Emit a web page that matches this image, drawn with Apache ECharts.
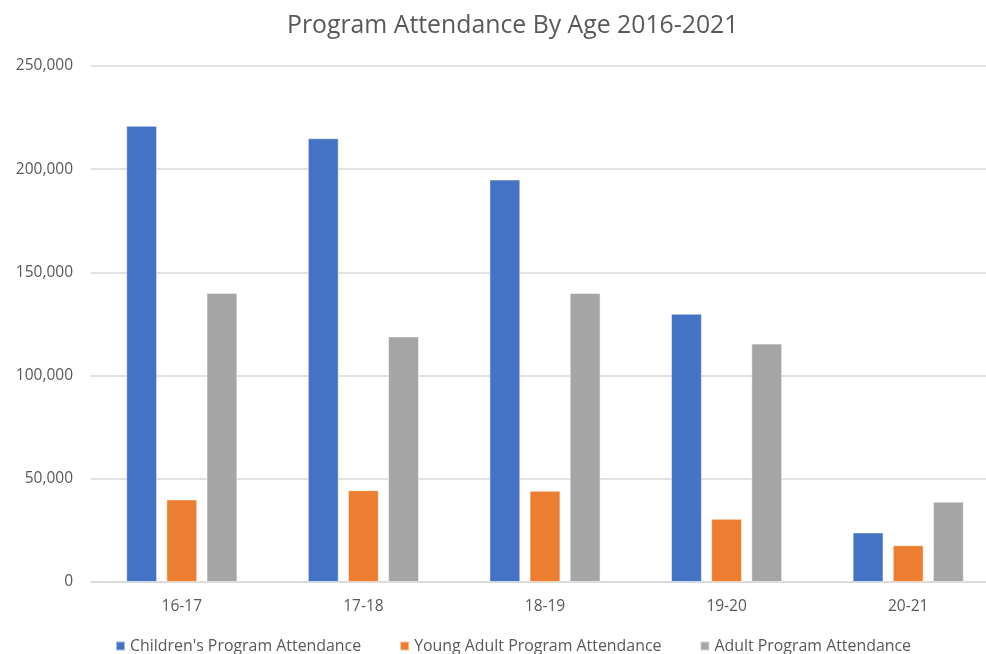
<!DOCTYPE html>
<html>
<head>
<meta charset="utf-8">
<script src="https://cdn.jsdelivr.net/npm/echarts@6/dist/echarts.min.js"></script>
<style>
  html, body { margin: 0; padding: 0; background: #fff; }
  #chart { width: 986px; height: 654px; }
</style>
</head>
<body>
<div id="chart"></div>
<script>
// Fiscal-year categories
const categories = ['16-17', '17-18', '18-19', '19-20', '20-21'];

// Attendance per program type
const childrens = [221000, 215000, 195000, 130000, 24000];
const youngAdult = [40000, 44500, 44200, 30600, 17800];
const adult = [140000, 119000, 140000, 115500, 38900];

const seriesNames = [
  "Children's Program Attendance",
  'Young Adult Program Attendance',
  'Adult Program Attendance'
];
const colors = ['#4472C4', '#ED7D31', '#A5A5A5'];

const font = '"Open Sans", "Noto Sans", sans-serif';
const textColor = '#595959';

const chart = echarts.init(document.getElementById('chart'));

function barSeries(name, data, color) {
  return {
    name: name,
    type: 'bar',
    data: data,
    barWidth: '17%',
    barGap: '30%',
    itemStyle: { color: color, borderColor: 'rgba(255,255,255,0.5)', borderWidth: 1 },
    emphasis: { disabled: true }
  };
}

chart.setOption({
  animation: false,
  title: {
    text: 'Program Attendance By Age 2016-2021',
    left: 282,
    top: 8,
    textStyle: { fontFamily: font, fontSize: 24.8, fontWeight: 'normal', color: textColor }
  },
  legend: {
    bottom: -5,
    left: 110,
    itemWidth: 9,
    itemHeight: 9,
    itemGap: 38,
    icon: 'rect',
    textStyle: { fontFamily: font, fontSize: 15.9, color: textColor }
  },
  grid: {
    left: 91, top: 66, width: 908, height: 516,
    containLabel: false,
    outerBoundsMode: 'none'
  },
  xAxis: {
    type: 'category',
    data: categories,
    axisLine: { lineStyle: { color: '#D9D9D9', width: 1.5 } },
    axisTick: { show: false },
    axisLabel: { fontFamily: font, fontSize: 15.5, color: textColor, margin: 17 }
  },
  yAxis: {
    type: 'value',
    min: 0,
    max: 250000,
    interval: 50000,
    axisLine: { show: false },
    axisTick: { show: false },
    splitLine: { lineStyle: { color: '#D9D9D9', width: 1.5 } },
    axisLabel: {
      fontFamily: font,
      fontSize: 15.5,
      color: textColor,
      margin: 18,
      formatter: v => v.toLocaleString('en-US')
    }
  },
  series: [
    barSeries(seriesNames[0], childrens, colors[0]),
    barSeries(seriesNames[1], youngAdult, colors[1]),
    barSeries(seriesNames[2], adult, colors[2])
  ]
});
</script>
</body>
</html>
